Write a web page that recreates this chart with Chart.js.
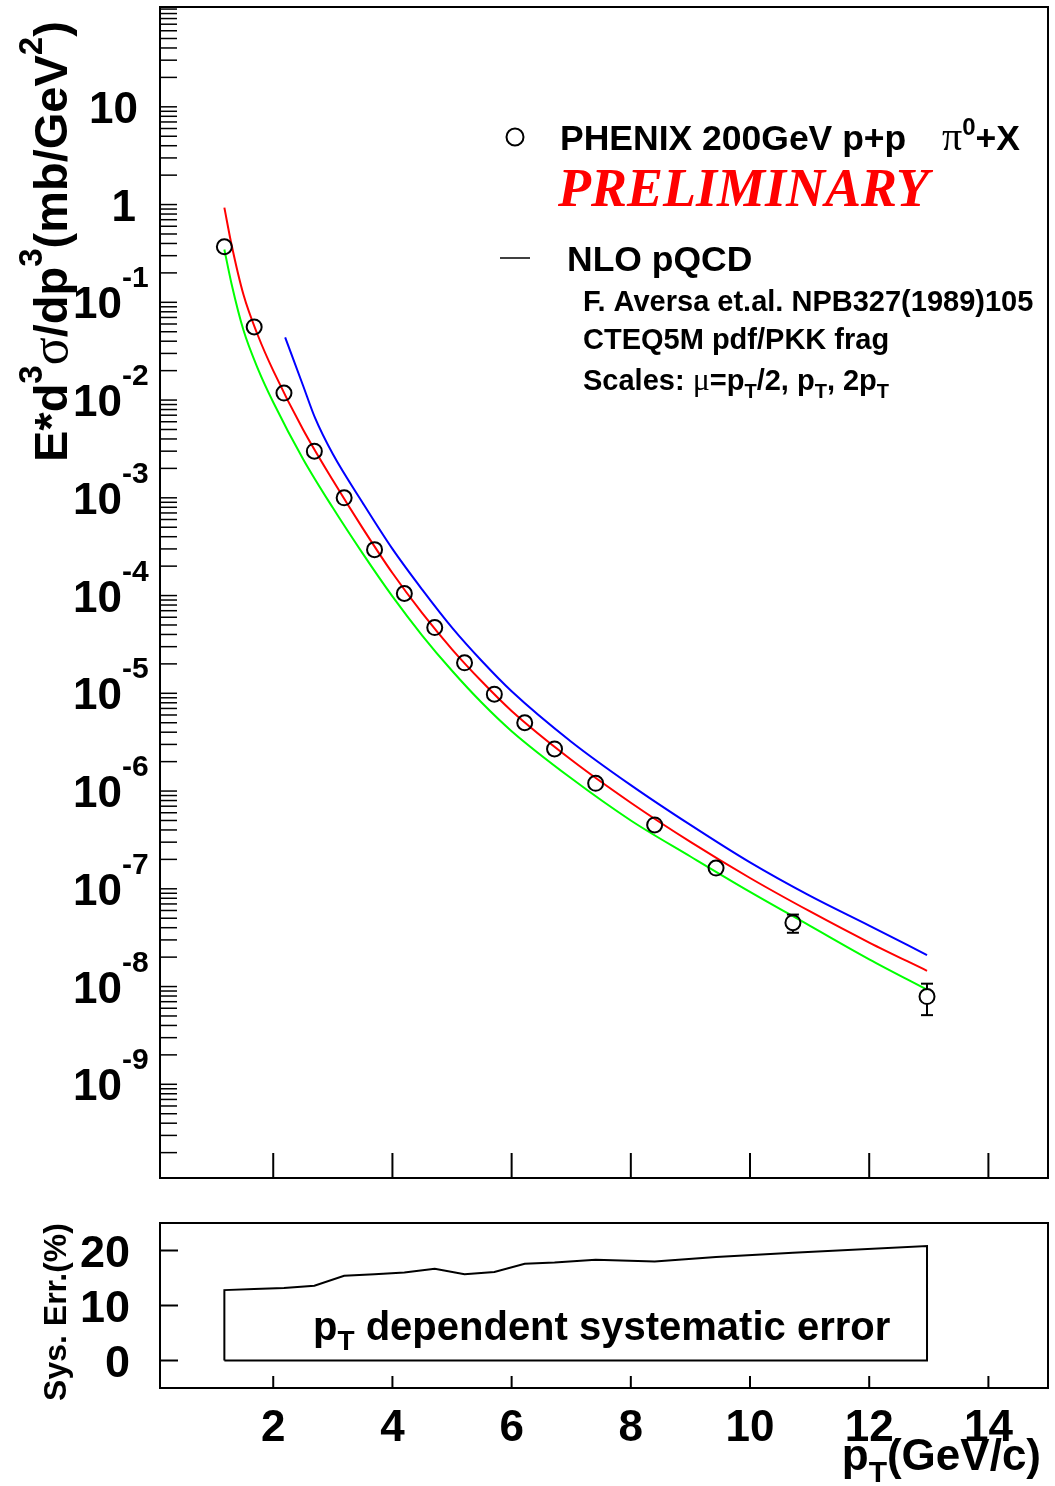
<!DOCTYPE html>
<html><head><meta charset="utf-8">
<script src="https://cdn.jsdelivr.net/npm/chart.js@4/dist/chart.umd.min.js"></script>
<style>
html,body{margin:0;padding:0;background:#fff;}
#wrap{position:relative;width:1055px;height:1486px;background:#fff;}
.box{position:absolute;left:0;}
</style></head><body>
<div id="wrap">
<div class="box" style="top:0;width:1055px;height:1200px"><canvas id="c1" width="1055" height="1200"></canvas></div>
<div class="box" style="top:1200px;width:1055px;height:286px"><canvas id="c2" width="1055" height="286"></canvas></div>
</div>
<script>
// ---- data ----
const ptX   = [1.18, 1.68, 2.18, 2.69, 3.19, 3.70, 4.20, 4.71, 5.21, 5.71, 6.22, 6.72, 7.41, 8.40, 9.43, 10.72, 12.97];
const ptY   = [0.37, 0.056, 0.0118, 3.0e-3, 1.0e-3, 2.95e-4, 1.05e-4, 4.7e-5, 2.05e-5, 9.8e-6, 5.0e-6, 2.7e-6, 1.2e-6, 4.5e-7, 1.63e-7, 4.5e-8, 7.9e-9];
const ptErr = [0, 0, 0, 0, 0, 0, 0, 0, 0, 0, 0, 0, 0, 0, 0, 0.95e-8, 2.8e-9];

const curveX = [1.18, 1.3, 1.5, 1.75, 2.0, 2.5, 3.0, 3.5, 4.0, 4.5, 5.0, 5.5, 6.0, 7.0, 8.0, 9.0, 10.0, 11.0, 12.0, 12.97];
const redY   = [0.93, 0.39, 0.12, 0.0447, 0.020, 5.0e-3, 1.51e-3, 4.9e-4, 1.70e-4, 6.6e-5, 2.82e-5, 1.32e-5, 6.6e-6, 2.09e-6, 7.6e-7, 3.02e-7, 1.29e-7, 5.9e-8, 2.82e-8, 1.45e-8];
const greenY = [0.347, 0.155, 0.052, 0.0204, 9.5e-3, 2.5e-3, 7.9e-4, 2.7e-4, 9.8e-5, 3.9e-5, 1.70e-5, 8.0e-6, 4.1e-6, 1.35e-6, 5.0e-7, 2.14e-7, 9.3e-8, 4.2e-8, 1.9e-8, 9.3e-9];
const blueX  = [2.2, 2.5, 2.7, 3.0, 3.5, 4.0, 4.5, 5.0, 5.5, 6.0, 7.0, 8.0, 9.0, 10.0, 11.0, 12.0, 12.97];
const blueY  = [0.0437, 0.0141, 6.6e-3, 2.8e-3, 8.9e-4, 3.0e-4, 1.15e-4, 4.7e-5, 2.14e-5, 1.05e-5, 3.2e-6, 1.15e-6, 4.5e-7, 1.86e-7, 8.5e-8, 4.2e-8, 2.1e-8];

const sysY   = [12.8, 13.0, 13.2, 13.6, 15.4, 15.7, 16.0, 16.7, 15.7, 16.1, 17.6, 17.8, 18.3, 18.0, 18.8, 19.6, 20.8];

const xTicks   = [2, 4, 6, 8, 10, 12, 14];
const xTickLabels = ['2', '4', '6', '8', '10', '12', '14'];
const yDecades = [1, 0, -1, -2, -3, -4, -5, -6, -7, -8, -9];
const sysTicks = [0, 10, 20];
const sysTickLabels = ['0', '10', '20'];

// ---- helpers ----
const SANS = '"Liberation Sans", Arial, Helvetica, sans-serif';
const SERIF = '"Liberation Serif", "Times New Roman", serif';
const B = (s) => `bold ${s}px ${SANS}`;
const N = (s) => `${s}px ${SERIF}`;

function rich(ctx, parts, x, y, align) {
  let total = 0;
  parts.forEach(p => { ctx.font = p.f; p.w = ctx.measureText(p.t).width; total += p.w; });
  let cx = align === 'right' ? x - total : (align === 'center' ? x - total / 2 : x);
  parts.forEach(p => {
    ctx.font = p.f; ctx.fillStyle = p.c || '#000';
    ctx.fillText(p.t, cx, y + (p.dy || 0));
    cx += p.w;
  });
}
function seg(ctx, x1, y1, x2, y2) { ctx.beginPath(); ctx.moveTo(x1, y1); ctx.lineTo(x2, y2); ctx.stroke(); }

const pts = (xs, ys) => xs.map((x, i) => ({x: x, y: ys[i]}));

// ---- top panel ----
const topPlugin = {
  id: 'topDecor',
  afterDatasetsDraw(chart) {
    const {ctx, scales: {x, y}} = chart;
    ctx.save();
    ctx.strokeStyle = '#000'; ctx.lineWidth = 2;
    const r = 7.5;
    ptX.forEach((px, i) => {
      if (!ptErr[i]) return;
      const cx = x.getPixelForValue(px), cy = y.getPixelForValue(ptY[i]);
      const yt = y.getPixelForValue(ptY[i] + ptErr[i]);
      const yb = y.getPixelForValue(ptY[i] - ptErr[i]);
      if (cy - yt > r) { seg(ctx, cx, cy - r, cx, yt); seg(ctx, cx - 6, yt, cx + 6, yt); }
      if (yb - cy > r) { seg(ctx, cx, cy + r, cx, yb); seg(ctx, cx - 6, yb, cx + 6, yb); }
    });
    ctx.restore();
  },
  afterDraw(chart) {
    const {ctx, chartArea: a, scales: {x, y}} = chart;
    ctx.save();
    ctx.textAlign = 'left'; ctx.textBaseline = 'alphabetic';
    ctx.strokeStyle = '#000';
    ctx.lineWidth = 2;
    ctx.strokeRect(a.left, a.top, a.right - a.left, a.bottom - a.top);
    ctx.lineWidth = 1.5;
    for (let k = -11; k <= 2; k++) {
      for (let n = 1; n <= 9; n++) {
        const v = n * Math.pow(10, k);
        if (v < y.min || v > y.max) continue;
        const py = y.getPixelForValue(v);
        seg(ctx, a.left, py, a.left + 17, py);
      }
    }
    ctx.lineWidth = 2;
    xTicks.forEach(t => { const px = x.getPixelForValue(t); seg(ctx, px, a.bottom, px, a.bottom - 25); });
    yDecades.forEach(k => {
      const py = y.getPixelForValue(Math.pow(10, k));
      if (k === 1) rich(ctx, [{t: '10', f: B(44)}], 138, py + 16, 'right');
      else if (k === 0) rich(ctx, [{t: '1', f: B(44)}], 136, py + 16, 'right');
      else rich(ctx, [{t: '10', f: B(44)}, {t: String(k), f: B(30), dy: -31}], 73, py + 16, 'left');
    });
    ctx.save();
    ctx.translate(67, 462);
    ctx.rotate(-Math.PI / 2);
    rich(ctx, [
      {t: 'E*d', f: B(47)}, {t: '3', f: B(33), dy: -25}, {t: 'σ', f: N(52)},
      {t: '/dp', f: B(47)}, {t: '3', f: B(33), dy: -25}, {t: '(mb/GeV', f: B(47)},
      {t: '2', f: B(33), dy: -25}, {t: ')', f: B(47)}
    ], 0, 0, 'left');
    ctx.restore();
    ctx.lineWidth = 2;
    ctx.beginPath(); ctx.arc(515, 137, 8.5, 0, Math.PI * 2); ctx.stroke();
    rich(ctx, [{t: 'PHENIX 200GeV p+p', f: B(35.5)}], 560, 150, 'left');
    rich(ctx, [{t: 'π', f: N(40)}, {t: '0', f: B(24), dy: -15}, {t: '+X', f: B(35.5)}], 942, 150, 'left');
    rich(ctx, [{t: 'PRELIMINARY', f: `italic bold 54px ${SERIF}`, c: '#ff0000'}], 558, 206, 'left');
    ctx.lineWidth = 1.5;
    seg(ctx, 500, 258, 530, 258);
    rich(ctx, [{t: 'NLO pQCD', f: B(35.5)}], 567, 271, 'left');
    rich(ctx, [{t: 'F. Aversa et.al. NPB327(1989)105', f: B(29)}], 583, 311, 'left');
    rich(ctx, [{t: 'CTEQ5M pdf/PKK frag', f: B(29)}], 583, 349, 'left');
    rich(ctx, [
      {t: 'Scales: ', f: B(29)}, {t: 'μ', f: N(32)}, {t: '=p', f: B(29)}, {t: 'T', f: B(20), dy: 8},
      {t: '/2, p', f: B(29)}, {t: 'T', f: B(20), dy: 8}, {t: ', 2p', f: B(29)}, {t: 'T', f: B(20), dy: 8}
    ], 583, 390, 'left');
    ctx.restore();
  }
};

new Chart(document.getElementById('c1'), {
  type: 'scatter',
  data: {
    datasets: [
      {label: 'PHENIX', data: pts(ptX, ptY), pointRadius: 7.5, pointBorderWidth: 2,
       pointBorderColor: '#000', pointBackgroundColor: 'rgba(0,0,0,0)', showLine: false},
      {label: 'mu=pT/2', data: pts(blueX, blueY), showLine: true, borderColor: '#0000ff', borderWidth: 2,
       pointRadius: 0, cubicInterpolationMode: 'monotone'},
      {label: 'mu=pT', data: pts(curveX, redY), showLine: true, borderColor: '#ff0000', borderWidth: 2,
       pointRadius: 0, cubicInterpolationMode: 'monotone'},
      {label: 'mu=2pT', data: pts(curveX, greenY), showLine: true, borderColor: '#00ff00', borderWidth: 2,
       pointRadius: 0, cubicInterpolationMode: 'monotone'}
    ]
  },
  options: {
    responsive: false, animation: false, devicePixelRatio: 1,
    layout: {padding: {left: 160, right: 7, top: 7, bottom: 22}, autoPadding: false},
    plugins: {legend: {display: false}, tooltip: {enabled: false}},
    scales: {
      x: {type: 'linear', min: 0.1, max: 15, display: false},
      y: {type: 'logarithmic', min: 1.1e-10, max: 105, display: false}
    }
  },
  plugins: [topPlugin]
});

// ---- bottom panel ----
const sysPoly = [{x: ptX[0], y: 0}].concat(pts(ptX, sysY), [{x: ptX[ptX.length - 1], y: 0}, {x: ptX[0], y: 0}]);

const botPlugin = {
  id: 'botDecor',
  afterDraw(chart) {
    const {ctx, chartArea: a, scales: {x, y}} = chart;
    ctx.save();
    ctx.textAlign = 'left'; ctx.textBaseline = 'alphabetic';
    ctx.strokeStyle = '#000';
    ctx.lineWidth = 2;
    ctx.strokeRect(a.left, a.top, a.right - a.left, a.bottom - a.top);
    sysTicks.forEach((t, i) => {
      const py = y.getPixelForValue(t);
      seg(ctx, a.left, py, a.left + 18, py);
      rich(ctx, [{t: sysTickLabels[i], f: B(45)}], 130, py + 16, 'right');
    });
    xTicks.forEach((t, i) => {
      const px = x.getPixelForValue(t);
      seg(ctx, px, a.bottom, px, a.bottom - 12);
      rich(ctx, [{t: xTickLabels[i], f: B(44)}], px, 241, 'center');
    });
    rich(ctx, [{t: 'p', f: B(44)}, {t: 'T', f: B(30), dy: 12}, {t: '(GeV/c)', f: B(44)}], 1041, 270, 'right');
    ctx.save();
    ctx.translate(66, 112);
    ctx.rotate(-Math.PI / 2);
    rich(ctx, [{t: 'Sys. Err.(%)', f: B(32)}], 0, 0, 'center');
    ctx.restore();
    rich(ctx, [{t: 'p', f: B(40)}, {t: 'T', f: B(28), dy: 10}, {t: ' dependent systematic error', f: B(40)}], 313, 140, 'left');
    ctx.restore();
  }
};

new Chart(document.getElementById('c2'), {
  type: 'scatter',
  data: {
    datasets: [
      {label: 'sys', data: sysPoly, showLine: true, borderColor: '#000', borderWidth: 2, pointRadius: 0, tension: 0}
    ]
  },
  options: {
    responsive: false, animation: false, devicePixelRatio: 1,
    layout: {padding: {left: 160, right: 7, top: 23, bottom: 98}, autoPadding: false},
    plugins: {legend: {display: false}, tooltip: {enabled: false}},
    scales: {
      x: {type: 'linear', min: 0.1, max: 15, display: false},
      y: {type: 'linear', min: -5, max: 25, display: false}
    }
  },
  plugins: [botPlugin]
});
</script>
</body></html>
